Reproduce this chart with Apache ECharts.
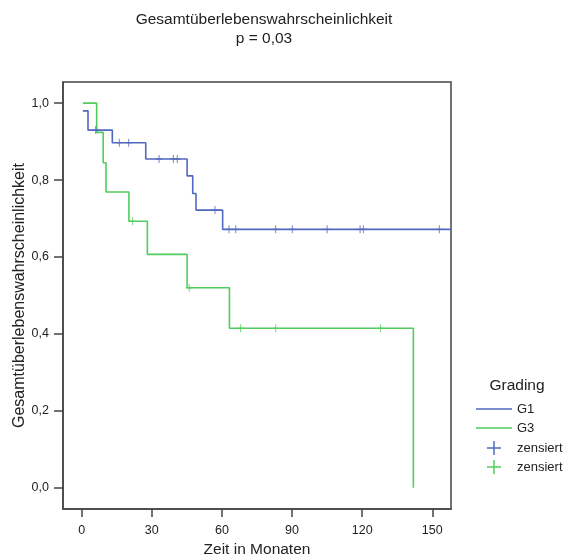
<!DOCTYPE html>
<html><head><meta charset="utf-8">
<script src="https://cdn.jsdelivr.net/npm/echarts@6/dist/echarts.min.js"></script>
<style>html,body{margin:0;padding:0;background:#fff}#c{width:566px;height:558px}</style>
</head><body><div id="c"></div>
<script>
// Data
const g1Times  = [0.5, 2.7, 13.1, 27.4, 45.1, 47.5, 48.9, 60.3, 158];
const g1Values = [0.98, 0.93, 0.897, 0.855, 0.811, 0.765, 0.722, 0.672, 0.672];
const g3Times  = [0.5, 6.4, 9.2, 10.4, 20.2, 28.1, 45.1, 63.2, 141.9];
const g3Values = [1.0, 0.924, 0.845, 0.769, 0.693, 0.607, 0.520, 0.415, 0.0];
const g1Censored = [6.0, 16.1, 20.1, 33.1, 39.2, 40.9, 57.0, 63.0, 65.9, 83.0, 90.1, 105.0, 119.1, 120.5, 153.0];
const g3Censored = [21.8, 46.0, 68.0, 83.0, 127.8];
const xTicks = [0, 30, 60, 90, 120, 150];
const yTicks = [0, 0.2, 0.4, 0.6, 0.8, 1.0];
const groupNames = ['G1', 'G3'];
const titleText = 'Gesamtüberlebenswahrscheinlichkeit';
const subText = 'p = 0,03';

const BLUE = '#5068bd';
const GREEN = '#52cc5e';
const FONT = '"Liberation Sans", Arial, sans-serif';
const TXT = '#222';

function stepAt(times, values, t) {
  let v = values[0];
  for (let i = 0; i < times.length; i++) { if (times[i] <= t) v = values[i]; }
  return v;
}
const pair = (ts, vs) => ts.map((t, i) => [t, vs[i]]);
const plus = 'path://M3,0h1v7h-1z M0,3h7v1h-7z';

const chart = echarts.init(document.getElementById('c'), null, {renderer: 'canvas'});
const option = {
  animation: false,
  backgroundColor: '#fff',
  textStyle: {fontFamily: FONT},
  title: {
    text: titleText + '\n' + subText,
    left: 259, top: 5, textAlign: 'center',
    textStyle: {fontFamily: FONT, fontSize: 15.5, fontWeight: 'normal', color: TXT, lineHeight: 19}
  },
  grid: {left: 63, right: 115, top: 82, bottom: 49, containLabel: false, outerBoundsMode: 'none',
         show: true, borderColor: '#444', borderWidth: 1.5, backgroundColor: '#fff'},
  xAxis: {
    type: 'value', min: -8, max: 158,
    name: 'Zeit in Monaten', nameLocation: 'middle', nameGap: 33, nameMoveOverlap: false,
    nameTextStyle: {fontFamily: FONT, fontSize: 15.5, color: TXT},
    axisLine: {show: true, onZero: false, lineStyle: {color: '#444', width: 1.5}},
    axisTick: {show: true, length: 8, customValues: xTicks, lineStyle: {color: '#444', width: 1.5}},
    axisLabel: {customValues: xTicks, margin: 15, fontFamily: FONT, fontSize: 12.5, color: TXT},
    splitLine: {show: false}
  },
  yAxis: {
    type: 'value', min: -0.055, max: 1.055,
    name: 'Gesamtüberlebenswahrscheinlichkeit', nameLocation: 'middle', nameGap: 35, nameRotate: 90,
    nameMoveOverlap: false,
    nameTextStyle: {fontFamily: FONT, fontSize: 16, color: TXT},
    axisLine: {show: true, onZero: false, lineStyle: {color: '#444', width: 1.5}},
    axisTick: {show: true, length: 9, customValues: yTicks, lineStyle: {color: '#444', width: 1.5}},
    axisLabel: {customValues: yTicks, margin: 14, fontFamily: FONT, fontSize: 12.5, color: TXT,
      formatter: v => v.toFixed(1).replace('.', ',')},
    splitLine: {show: false}
  },
  series: [
    {name: groupNames[0], type: 'line', step: 'end', data: pair(g1Times, g1Values), symbol: 'none',
     lineStyle: {color: BLUE, width: 1.6}, clip: true, z: 3},
    {name: groupNames[1], type: 'line', step: 'end', data: pair(g3Times, g3Values), symbol: 'none',
     lineStyle: {color: GREEN, width: 1.6}, clip: true, z: 2},
    {name: 'zensiert', type: 'scatter', symbol: plus, symbolSize: [7, 8],
     itemStyle: {color: BLUE}, z: 4,
     data: g1Censored.map(t => [t, stepAt(g1Times, g1Values, t)])},
    {name: 'zensiert ', type: 'scatter', symbol: plus, symbolSize: [7, 8],
     itemStyle: {color: GREEN}, z: 4,
     data: g3Censored.map(t => [t, stepAt(g3Times, g3Values, t)])}
  ],
  graphic: [
    {type: 'text', x: 517, y: 386, style: {text: 'Grading', fill: TXT, font: '15.5px ' + FONT, align: 'center', verticalAlign: 'middle'}},
    {type: 'line', shape: {x1: 476, y1: 409, x2: 512, y2: 409}, style: {stroke: BLUE, lineWidth: 1.6}},
    {type: 'text', x: 517, y: 409, style: {text: groupNames[0], fill: TXT, font: '13px ' + FONT, verticalAlign: 'middle'}},
    {type: 'line', shape: {x1: 476, y1: 428, x2: 512, y2: 428}, style: {stroke: GREEN, lineWidth: 1.6}},
    {type: 'text', x: 517, y: 428, style: {text: groupNames[1], fill: TXT, font: '13px ' + FONT, verticalAlign: 'middle'}},
    {type: 'line', shape: {x1: 487, y1: 448, x2: 501, y2: 448}, style: {stroke: BLUE, lineWidth: 1.5}},
    {type: 'line', shape: {x1: 494, y1: 441, x2: 494, y2: 455}, style: {stroke: BLUE, lineWidth: 1.5}},
    {type: 'text', x: 517, y: 448, style: {text: 'zensiert', fill: TXT, font: '13px ' + FONT, verticalAlign: 'middle'}},
    {type: 'line', shape: {x1: 487, y1: 467, x2: 501, y2: 467}, style: {stroke: GREEN, lineWidth: 1.5}},
    {type: 'line', shape: {x1: 494, y1: 460, x2: 494, y2: 474}, style: {stroke: GREEN, lineWidth: 1.5}},
    {type: 'text', x: 517, y: 467, style: {text: 'zensiert', fill: TXT, font: '13px ' + FONT, verticalAlign: 'middle'}}
  ]
};
chart.setOption(option);
</script></body></html>
